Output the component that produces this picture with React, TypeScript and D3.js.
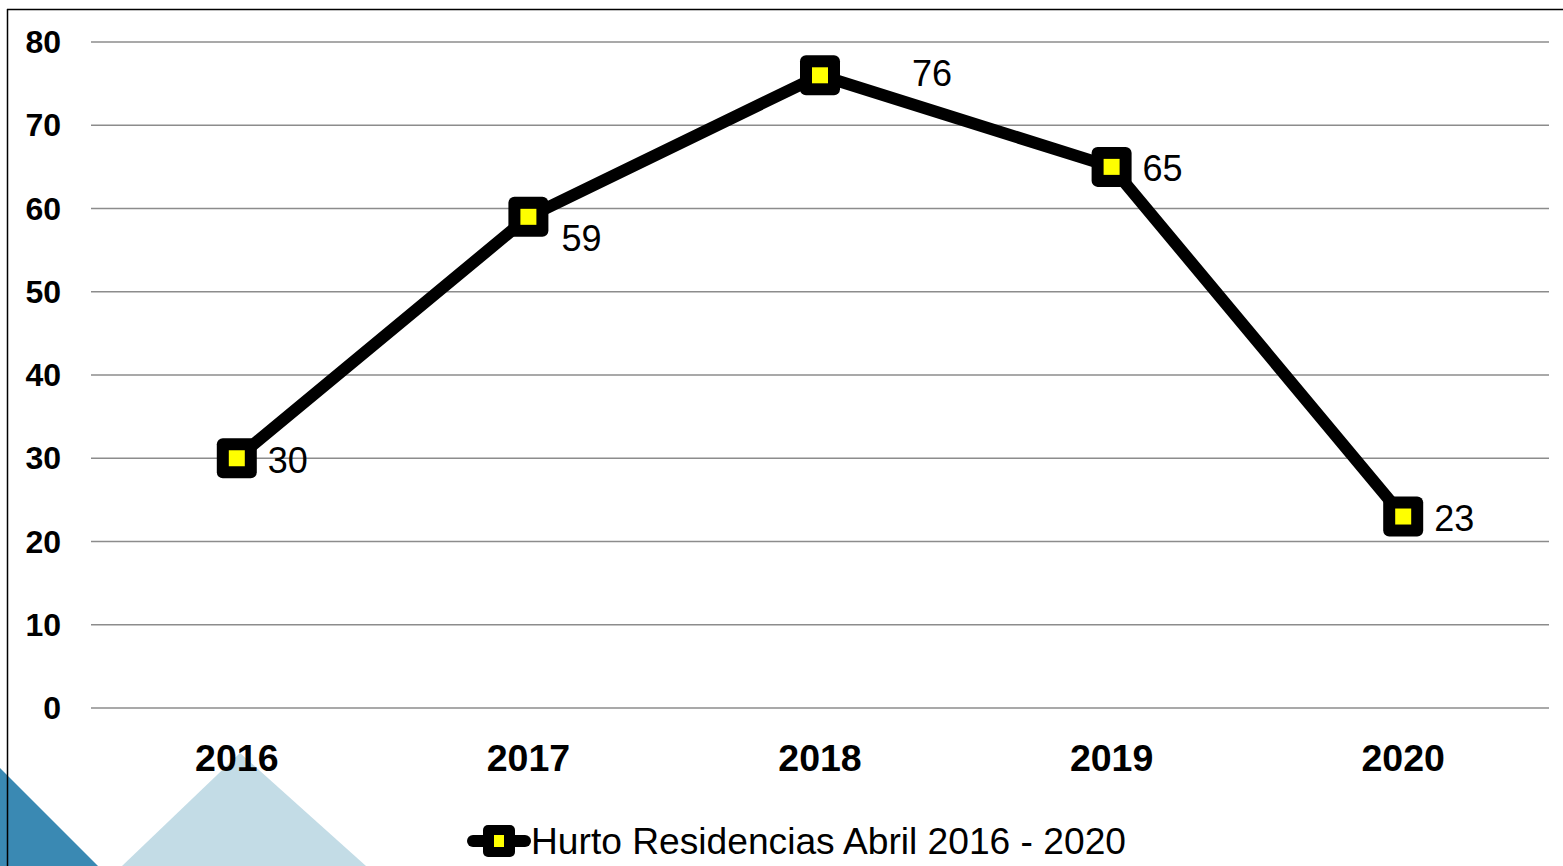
import * as d3 from "d3";

const years = ["2016", "2017", "2018", "2019", "2020"];
const hurtos = [30, 59, 76, 65, 23];
const yTicks = [0, 10, 20, 30, 40, 50, 60, 70, 80];
const seriesName = "Hurto Residencias Abril 2016 - 2020";
// label offsets (dx, dy) relative to the marker, as in the source chart
const labelDx = [31, 33, 92, 31, 31];
const labelDy = [2, 22, -2, 2, 2];

export default function App() {
  const W = 1563;
  const H = 866;
  const left = 91;
  const right = 1549;
  const top = 42;
  const bottom = 708;
  const font = "'Liberation Sans', Arial, sans-serif";

  const x = d3.scaleBand().domain(years).range([left, right]);
  const y = d3.scaleLinear().domain([0, 80]).range([bottom, top]);
  const cx = (d: string) => (x(d) ?? 0) + x.bandwidth() / 2;

  const line = d3
    .line<number>()
    .x((_, i) => cx(years[i]))
    .y((v) => y(v));

  return (
    <svg
      width={W}
      height={H}
      style={{ position: "absolute", left: 0, top: 0, background: "#fff" }}
      fontFamily={font}
    >
      {/* decorative triangles, bottom left */}
      <polygon points={`0,768 0,${H} 98,${H}`} fill="#3a89b3" />
      <polygon points={`240,753 122,${H} 366,${H}`} fill="#c3dce6" />

      {/* frame */}
      <line x1={7.5} y1={9} x2={7.5} y2={H} stroke="#000" strokeWidth={1.5} />
      <line x1={7} y1={9.5} x2={W} y2={9.5} stroke="#000" strokeWidth={1.5} />

      {yTicks.map((t) => (
        <g key={t}>
          <line x1={left} x2={right} y1={y(t)} y2={y(t)} stroke="#8c8c8c" strokeWidth={1.3} />
          <text
            x={61}
            y={y(t)}
            textAnchor="end"
            dominantBaseline="central"
            fontSize={32}
            fontWeight="bold"
          >
            {t}
          </text>
        </g>
      ))}

      {years.map((yr) => (
        <text
          key={yr}
          x={cx(yr)}
          y={758}
          textAnchor="middle"
          dominantBaseline="central"
          fontSize={37.5}
          fontWeight="bold"
        >
          {yr}
        </text>
      ))}

      <path d={line(hurtos) ?? ""} fill="none" stroke="#000" strokeWidth={12} strokeLinejoin="round" />

      {hurtos.map((v, i) => (
        <g key={i} transform={`translate(${cx(years[i])},${y(v)})`}>
          <rect x={-20} y={-20} width={40} height={40} rx={6} fill="#000" />
          <rect x={-8} y={-8} width={16} height={16} fill="#ffff00" />
          <text
            x={labelDx[i]}
            y={labelDy[i]}
            dominantBaseline="central"
            fontSize={36}
          >
            {v}
          </text>
        </g>
      ))}

      {/* legend */}
      <g transform="translate(499,841)">
        <line x1={-26} x2={26} y1={0} y2={0} stroke="#000" strokeWidth={12} strokeLinecap="round" />
        <rect x={-16} y={-16} width={32} height={32} rx={5} fill="#000" />
        <rect x={-5} y={-6} width={10} height={12} fill="#ffff00" />
        <text
          x={32}
          y={0}
          dominantBaseline="central"
          fontSize={36}
          textLength={595}
          lengthAdjust="spacingAndGlyphs"
        >
          {seriesName}
        </text>
      </g>
    </svg>
  );
}
